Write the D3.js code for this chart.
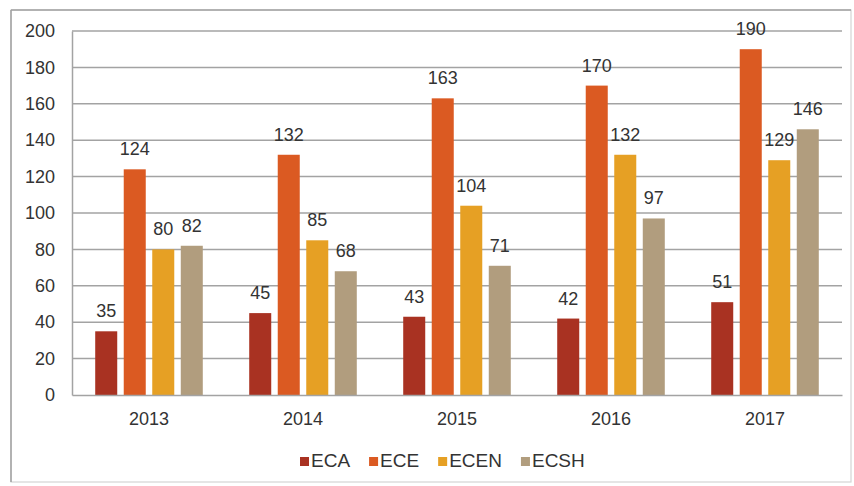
<!DOCTYPE html>
<html><head><meta charset="utf-8">
<script src="https://cdn.jsdelivr.net/npm/d3@7"></script>
<style>body{margin:0;background:#fff}svg{display:block}text{font-family:"Liberation Sans",Arial,sans-serif}</style>
</head><body><svg id="c" width="854" height="486"></svg>
<script>
const years = ["2013","2014","2015","2016","2017"];
const seriesNames = ["ECA","ECE","ECEN","ECSH"];
const ECA = [35,45,43,42,51];
const ECE = [124,132,163,170,190];
const ECEN = [80,85,104,132,129];
const ECSH = [82,68,71,97,146];
const yTicks = [0,20,40,60,80,100,120,140,160,180,200];
const colors = ["#a93222","#db5a22","#e6a024","#b19d7e"];
const values = [ECA,ECE,ECEN,ECSH];

const svg = d3.select("#c");
svg.append("rect").attr("x",11).attr("y",10).attr("width",840).attr("height",472)
  .attr("fill","none").attr("stroke","#d4d4d4").attr("stroke-width",1.2);
svg.append("line").attr("x1",11).attr("x2",11).attr("y1",10).attr("y2",482).attr("stroke","#a0a0a0").attr("stroke-width",1.5);
svg.append("line").attr("x1",11).attr("x2",851).attr("y1",10).attr("y2",10).attr("stroke","#a0a0a0").attr("stroke-width",1.5);

const x = d3.scaleBand().domain(years).range([72,842]).paddingInner(0).paddingOuter(0);
const xs = d3.scaleBand().domain(seriesNames).range([0,x.bandwidth()]).paddingInner(0.228).paddingOuter(0.814);
const y = d3.scaleLinear().domain([0,200]).range([395,31]);

// gridlines
svg.append("g").selectAll("line").data(yTicks.filter(d=>d>0)).join("line")
  .attr("x1",72).attr("x2",842).attr("y1",d=>y(d)).attr("y2",d=>y(d))
  .attr("stroke","#a3a3a3").attr("stroke-width",1.5);

// y axis
const yAxis = svg.append("g").attr("transform","translate(72,0)")
  .call(d3.axisLeft(y).tickValues(yTicks).tickSize(0).tickPadding(17));
yAxis.select(".domain").attr("stroke","#a3a3a3").attr("stroke-width",1.5);
yAxis.selectAll("text").attr("font-size",18).attr("fill","#333").attr("font-family","Liberation Sans, Arial, sans-serif");

// bars
values.forEach((vals,si)=>{
  const g = svg.append("g");
  g.selectAll("rect").data(vals).join("rect")
    .attr("x",(d,i)=>x(years[i])+xs(seriesNames[si]))
    .attr("y",d=>y(d)).attr("width",xs.bandwidth()).attr("height",d=>y(0)-y(d))
    .attr("fill",colors[si]);
  g.selectAll("text").data(vals).join("text")
    .attr("x",(d,i)=>x(years[i])+xs(seriesNames[si])+xs.bandwidth()/2)
    .attr("y",d=>y(d)-14).attr("text-anchor","middle")
    .attr("font-size",18).attr("fill","#333").text(d=>d);
});

// x axis
const xAxis = svg.append("g").attr("transform","translate(0,395)")
  .call(d3.axisBottom(x).tickSize(0).tickPadding(17));
xAxis.select(".domain").attr("stroke","#a3a3a3").attr("stroke-width",1.5);
xAxis.selectAll("text").attr("font-size",18).attr("fill","#333").attr("font-family","Liberation Sans, Arial, sans-serif");

// legend
const lg = svg.append("g");
let lx = 300;
seriesNames.forEach((n,i)=>{
  lg.append("rect").attr("x",lx).attr("y",457).attr("width",9).attr("height",9).attr("fill",colors[i]);
  const t = lg.append("text").attr("x",lx+11).attr("y",467).attr("font-size",19).attr("fill","#333").text(n);
  lx += 11 + t.node().getComputedTextLength() + 19;
});
</script></body></html>
